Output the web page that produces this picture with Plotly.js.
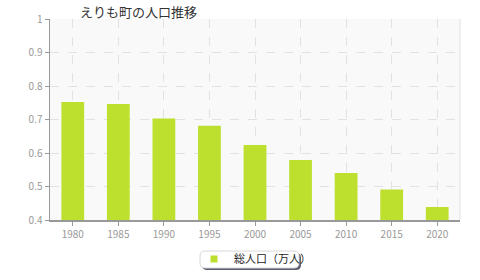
<!DOCTYPE html>
<html>
<head>
<meta charset="utf-8">
<script src="https://cdn.plot.ly/plotly-3.0.1.min.js"></script>
<style>html,body{margin:0;padding:0;background:#fff;}#chart{width:480px;height:280px;}</style>
</head>
<body>
<div id="chart"></div>
<script>
const years = ['1980','1985','1990','1995','2000','2005','2010','2015','2020'];
const population = [0.752, 0.746, 0.703, 0.681, 0.624, 0.579, 0.540, 0.491, 0.439];
const seriesName = '総人口（万人）';
const chartTitle = 'えりも町の人口推移';
const yTicks = [0.4, 0.5, 0.6, 0.7, 0.8, 0.9, 1];
const yTickText = ['0.4', '0.5', '0.6', '0.7', '0.8', '0.9', '1'];

const font = '"Noto Sans CJK JP", "DejaVu Sans", sans-serif';

const data = [
  {
    type: 'bar',
    x: years,
    y: population,
    marker: {color: '#bde02f'},
    showlegend: false,
    hoverinfo: 'x+y'
  },
  {
    type: 'scatter',
    mode: 'markers',
    x: [null],
    y: [null],
    name: seriesName,
    marker: {symbol: 'square', size: 7, color: '#bde02f'},
    showlegend: true
  }
];

const layout = {
  width: 480,
  height: 280,
  margin: {l: 50, r: 20, t: 19, b: 60},
  paper_bgcolor: '#ffffff',
  plot_bgcolor: '#f9f9f9',
  font: {family: font, color: '#999', size: 10},
  title: {
    text: chartTitle,
    font: {family: font, size: 13, color: '#333'},
    x: 80/480, xanchor: 'left', xref: 'container',
    y: 1 - 12/280, yanchor: 'middle', yref: 'container'
  },
  bargap: 0.5,
  xaxis: {
    type: 'category',
    showline: true, linecolor: '#999', linewidth: 1.5,
    ticks: 'outside', ticklen: 4, tickcolor: '#999',
    showgrid: true, gridcolor: '#e2e2e2', griddash: 'dash', gridwidth: 1,
    tickfont: {family: font, size: 10, color: '#999'},
    fixedrange: true
  },
  yaxis: {
    range: [0.4, 1],
    tickvals: yTicks, ticktext: yTickText,
    showline: true, linecolor: '#999', linewidth: 1.5,
    ticks: 'outside', ticklen: 4, tickcolor: '#999',
    showgrid: true, gridcolor: '#e2e2e2', griddash: 'dash', gridwidth: 1,
    zeroline: false,
    tickfont: {family: font, size: 10, color: '#999'},
    fixedrange: true
  },
  showlegend: true,
  legend: {
    orientation: 'h',
    x: 0.5 - 0.0 , xref: 'paper', xanchor: 'center',
    y: 1 - 259/280, yref: 'container', yanchor: 'middle',
    bgcolor: 'rgba(0,0,0,0)',
    font: {family: font, size: 11, color: '#222'},
    itemwidth: 30
  },
  shapes: [
    {type: 'line', xref: 'paper', yref: 'paper', x0: 1, x1: 1, y0: 0, y1: 1,
     line: {color: '#e0e0e0', width: 1}},
    {type: 'path', xref: 'paper', yref: 'paper', layer: 'below',
     path: '', line: {width: 0}}
  ]
};

// rounded legend box (pixel -> paper helpers)
const pw = 480 - 50 - 20, ph = 280 - 19 - 60;
function px(x){ return (x - 50) / pw; }
function py(y){ return (280 - 60 - y) / ph; }
function rr(x0, y0, x1, y1, r){
  return `M ${px(x0+r)},${py(y0)} L ${px(x1-r)},${py(y0)} Q ${px(x1)},${py(y0)} ${px(x1)},${py(y0+r)} ` +
         `L ${px(x1)},${py(y1-r)} Q ${px(x1)},${py(y1)} ${px(x1-r)},${py(y1)} ` +
         `L ${px(x0+r)},${py(y1)} Q ${px(x0)},${py(y1)} ${px(x0)},${py(y1-r)} ` +
         `L ${px(x0)},${py(y0+r)} Q ${px(x0)},${py(y0)} ${px(x0+r)},${py(y0)} Z`;
}
layout.shapes = [
  layout.shapes[0],
  {type: 'path', xref: 'paper', yref: 'paper', path: rr(202, 253, 301, 270, 5),
   fillcolor: '#5a5f70', line: {width: 0}, layer: 'above'},
  {type: 'path', xref: 'paper', yref: 'paper', path: rr(200, 251, 299, 268, 5),
   fillcolor: '#ffffff', line: {color: '#d8d8d8', width: 1}, layer: 'above'}
];

Plotly.newPlot('chart', data, layout, {displayModeBar: false, staticPlot: true});
</script>
</body>
</html>
